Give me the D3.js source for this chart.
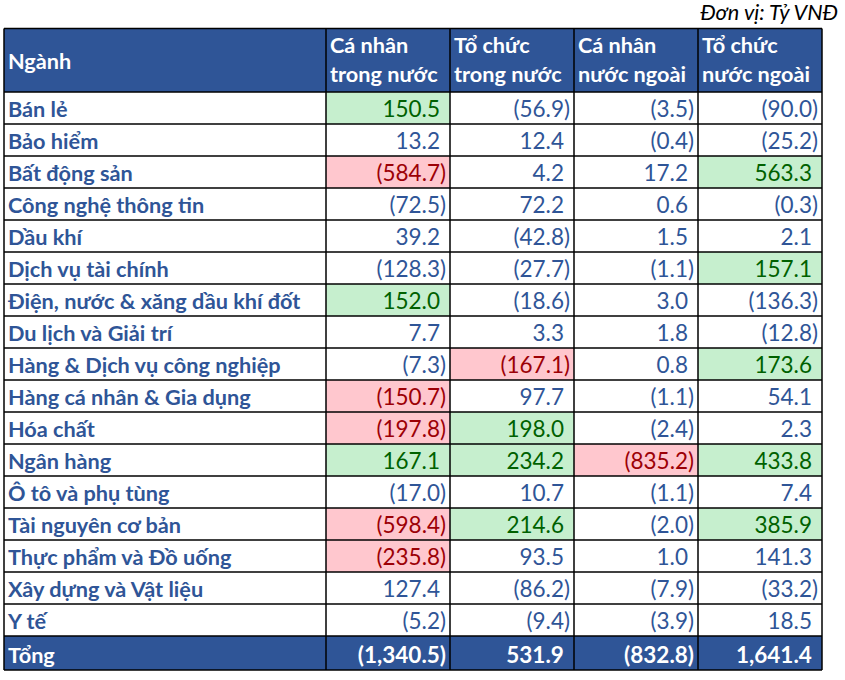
<!DOCTYPE html>
<html><head><meta charset="utf-8">
<script src="https://cdn.jsdelivr.net/npm/d3@7/dist/d3.min.js"></script>
<style>body{margin:0;background:#fff}svg{display:block}</style>
</head><body><div id="chart"></div>
<script>
const categories = ["Bán lẻ","Bảo hiểm","Bất động sản","Công nghệ thông tin","Dầu khí","Dịch vụ tài chính","Điện, nước & xăng dầu khí đốt","Du lịch và Giải trí","Hàng & Dịch vụ công nghiệp","Hàng cá nhân & Gia dụng","Hóa chất","Ngân hàng","Ô tô và phụ tùng","Tài nguyên cơ bản","Thực phẩm và Đồ uống","Xây dựng và Vật liệu","Y tế"];
const caNhanTrongNuoc = [150.5,13.2,-584.7,-72.5,39.2,-128.3,152.0,7.7,-7.3,-150.7,-197.8,167.1,-17.0,-598.4,-235.8,127.4,-5.2];
const toChucTrongNuoc = [-56.9,12.4,4.2,72.2,-42.8,-27.7,-18.6,3.3,-167.1,97.7,198.0,234.2,10.7,214.6,93.5,-86.2,-9.4];
const caNhanNuocNgoai = [-3.5,-0.4,17.2,0.6,1.5,-1.1,3.0,1.8,0.8,-1.1,-2.4,-835.2,-1.1,-2.0,1.0,-7.9,-3.9];
const toChucNuocNgoai = [-90.0,-25.2,563.3,-0.3,2.1,157.1,-136.3,-12.8,173.6,54.1,2.3,433.8,7.4,385.9,141.3,-33.2,18.5];
const totals = [-1340.5,531.9,-832.8,1641.4];
const headers = [["Cá nhân","trong nước"],["Tổ chức","trong nước"],["Cá nhân","nước ngoài"],["Tổ chức","nước ngoài"]];
const firstHeader = "Ngành";
const totalLabel = "Tổng";
const unitLabel = "Đơn vị: Tỷ VNĐ";

const series = [caNhanTrongNuoc, toChucTrongNuoc, caNhanNuocNgoai, toChucNuocNgoai];
const W = 845, H = 680;
const FONT = "Lato, 'Open Sans', sans-serif";
const FS = 21.7, FSN = 22.5;
const BLUE = "#2F5597", HEAD = "#2F5597";
const tableLeft = 4, firstColRight = 326, tableRight = 822;
const headTop = 28.5, headBottom = 92, bodyBottom = 636, totalBottom = 670;

const svg = d3.select("#chart").append("svg").attr("width", W).attr("height", H);

const y = d3.scaleBand().domain(categories).range([headBottom, bodyBottom]);
const x = d3.scaleBand().domain(d3.range(4)).range([firstColRight, tableRight]);
const fmt = v => { const s = d3.format(",.1f")(Math.abs(v)); return v < 0 ? "(" + s + ")" : s; };
const highlight = v => v > 150 ? "good" : (v < -150 ? "bad" : null);
const fillOf = {good: "#C6EFCE", bad: "#FFC7CE"};
const textOf = {good: "#006100", bad: "#9C0006"};

// unit label
svg.append("text").attr("x", 838).attr("y", 20).attr("text-anchor", "end")
  .attr("font-family", FONT).attr("font-style", "italic").attr("font-size", FS).attr("fill", "#000").text(unitLabel);

// header background
svg.append("rect").attr("x", tableLeft).attr("y", headTop).attr("width", tableRight - tableLeft).attr("height", headBottom - headTop).attr("fill", HEAD);
// total background
svg.append("rect").attr("x", tableLeft).attr("y", bodyBottom).attr("width", tableRight - tableLeft).attr("height", totalBottom - bodyBottom).attr("fill", HEAD);

// highlight cells
const cells = [];
categories.forEach((c, i) => series.forEach((s, j) => cells.push({c, j, v: s[i]})));
svg.append("g").selectAll("rect").data(cells.filter(d => highlight(d.v))).join("rect")
  .attr("x", d => x(d.j)).attr("y", d => y(d.c)).attr("width", x.bandwidth()).attr("height", y.bandwidth())
  .attr("fill", d => fillOf[highlight(d.v)]);

// header text
svg.append("text").attr("x", tableLeft + 4).attr("y", 69).attr("font-family", FONT).attr("font-weight", "bold")
  .attr("font-size", FS).attr("fill", "#fff").text(firstHeader);
headers.forEach((h, j) => {
  h.forEach((line, k) => {
    svg.append("text").attr("x", x(j) + 4).attr("y", 53 + k * 29).attr("font-family", FONT).attr("font-weight", "bold")
      .attr("font-size", FS).attr("fill", "#fff").text(line);
  });
});

// category labels
svg.append("g").selectAll("text").data(categories).join("text")
  .attr("x", tableLeft + 4).attr("y", d => y(d) + y.bandwidth() - 7)
  .attr("font-family", FONT).attr("font-weight", "bold").attr("font-size", FS).attr("fill", BLUE).text(d => d);

// total label
svg.append("text").attr("x", tableLeft + 4).attr("y", totalBottom - 7)
  .attr("font-family", FONT).attr("font-weight", "bold").attr("font-size", FS).attr("fill", "#fff").text(totalLabel);

// numbers
function numText(g, v, xr, yb, color, bold) {
  const t = g.append("text").attr("x", xr).attr("y", yb).attr("text-anchor", "end")
    .attr("font-family", FONT).attr("font-size", FSN).attr("fill", color);
  if (bold) t.attr("font-weight", "bold");
  t.append("tspan").text(fmt(v));
  if (v >= 0) t.append("tspan").attr("fill-opacity", 0).text(")");
}
const ng = svg.append("g");
cells.forEach(d => {
  const h = highlight(d.v);
  numText(ng, d.v, x(d.j) + x.bandwidth() - 4, y(d.c) + y.bandwidth() - 7, h ? textOf[h] : BLUE, false);
});
totals.forEach((v, j) => numText(ng, v, x(j) + x.bandwidth() - 4, totalBottom - 7, "#fff", true));

// grid lines
const grid = svg.append("g").attr("stroke", "#000").attr("stroke-width", 1.5);
const hLines = [headTop, ...categories.map(c => y(c)), bodyBottom, totalBottom];
grid.selectAll("line.h").data(hLines).join("line").attr("class", "h")
  .attr("x1", tableLeft).attr("x2", tableRight).attr("y1", d => d).attr("y2", d => d);
const vLines = [tableLeft, ...d3.range(4).map(j => x(j)), tableRight];
grid.selectAll("line.v").data(vLines).join("line").attr("class", "v")
  .attr("x1", d => d).attr("x2", d => d).attr("y1", headTop).attr("y2", totalBottom);
</script></body></html>
